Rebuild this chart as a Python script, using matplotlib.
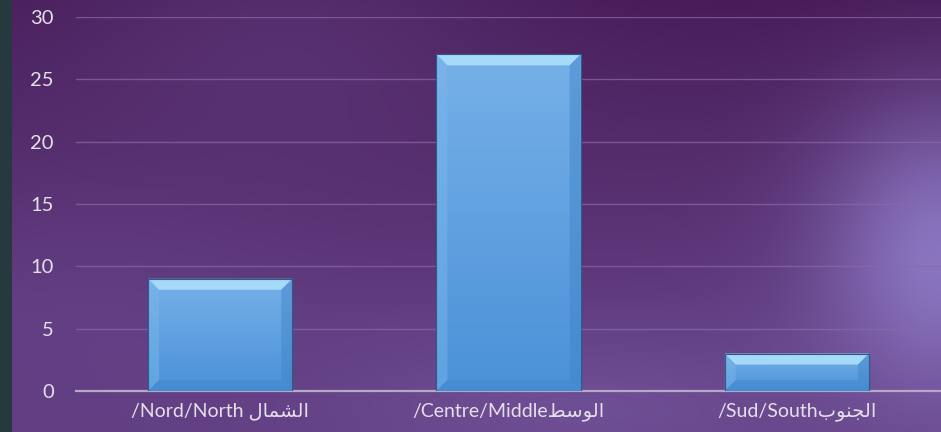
import numpy as np
import matplotlib.pyplot as plt
from matplotlib.patches import Polygon

# category labels, written in visual order (Arabic in presentation forms, right-to-left)
categories = [
    "/Nord/North \ufedd\ufe8e\ufee4\ufeb8\ufedf\ufe8d",   # الشمال
    "/Centre/Middle\ufec2\ufeb3\ufeee\ufedf\ufe8d",      # الوسط
    "/Sud/South\ufe8f\ufeee\ufee8\ufea0\ufedf\ufe8d",     # الجنوب
]
values = [9, 27, 3]
yticks = [0, 5, 10, 15, 20, 25, 30]

W, H = 941, 432
fig = plt.figure(figsize=(W / 100, H / 100), dpi=100)

# background: purple with soft light patches
bg = fig.add_axes([0, 0, 1, 1], zorder=-10)
xx, yy = np.meshgrid(np.linspace(0, 1, W), np.linspace(0, 1, H))
img = np.zeros((H, W, 3))
top = np.array([72, 28, 88]) / 255
bot = np.array([98, 62, 130]) / 255
t = np.clip(yy * 1.3, 0, 1)[..., None]
img[:] = top * (1 - t) + bot * t
def blob(cx, cy, sx, sy, col, a):
    g = np.exp(-((xx - cx) ** 2 / (2 * sx ** 2) + (yy - cy) ** 2 / (2 * sy ** 2)))[..., None] * a
    return g, np.array(col) / 255
for cx, cy, sx, sy, col, a in [
    (0.3, 0.15, 0.18, 0.25, (90, 52, 118), 0.8),
    (1.0, 0.6, 0.09, 0.25, (140, 120, 195), 0.95),
    (0.62, 0.95, 0.2, 0.12, (118, 88, 160), 0.6),
    (0.1, 0.75, 0.15, 0.2, (100, 66, 135), 0.5),
]:
    g, c = blob(cx, cy, sx, sy, col, a)
    img = img * (1 - g) + c * g
img[:, :12] = np.array([38, 58, 64]) / 255
bg.imshow(img, aspect="auto", extent=[0, 1, 0, 1], origin="upper")
bg.axis("off")

ax = fig.add_axes([76 / W, 41 / H, 1 - 76 / W, (391 - 17) / H])
ax.set_facecolor("none")
ax.set_xlim(-0.5, 2.5)
ax.set_ylim(0, 30)

x = np.arange(len(categories))
bars = ax.bar(x, values, width=0.5, color="#5ea3e4", edgecolor="#2f5f90", linewidth=0.8, zorder=3)

# bevel look on each bar
fig.canvas.draw()
sx = (ax.get_xlim()[1] - ax.get_xlim()[0]) / ax.bbox.width
sy = (ax.get_ylim()[1] - ax.get_ylim()[0]) / ax.bbox.height
grad = np.linspace(0, 1, 100)[:, None]
cmap = plt.matplotlib.colors.LinearSegmentedColormap.from_list("b", ["#76b0e8", "#4b92d8"])
for b in bars:
    x0, w, h = b.get_x(), b.get_width(), b.get_height()
    im = ax.imshow(grad, extent=[x0, x0 + w, 0, h], aspect="auto", cmap=cmap, zorder=3.1)
    im.set_clip_path(b)
    dx, dy = 11 * sx, 11 * sy
    ax.add_patch(Polygon([(x0, h), (x0 + w, h), (x0 + w - dx, h - dy), (x0 + dx, h - dy)],
                         facecolor="#a6daf8", edgecolor="none", zorder=3.2))
    ax.add_patch(Polygon([(x0, h), (x0 + dx, h - dy), (x0 + dx, dy), (x0, 0)],
                         facecolor="#7cb8ec", edgecolor="none", alpha=0.45, zorder=3.2))
    ax.add_patch(Polygon([(x0 + w, h), (x0 + w - dx, h - dy), (x0 + w - dx, dy), (x0 + w, 0)],
                         facecolor="#3f82c6", edgecolor="none", alpha=0.45, zorder=3.2))
    ax.add_patch(Polygon([(x0, 0), (x0 + dx, dy), (x0 + w - dx, dy), (x0 + w, 0)],
                         facecolor="#3e86cc", edgecolor="none", alpha=0.45, zorder=3.2))
    ax.add_patch(Polygon([(x0, 0), (x0 + w, 0), (x0 + w, h), (x0, h)],
                         facecolor="none", edgecolor="#2c5a8a", linewidth=0.8, zorder=3.3))

ax.set_yticks(yticks)
ax.set_xticks(x)
ax.set_xticklabels(categories, family=["Lato", "DejaVu Sans"], fontsize=14, color="#e4e0ea")
for lab in ax.get_yticklabels():
    lab.set_family("Lato")
    lab.set_fontsize(14.5)
    lab.set_color("#e4e0ea")
ax.tick_params(axis="y", length=0, pad=16)
ax.tick_params(axis="x", length=0, pad=8)
ax.grid(axis="y", color="#8a6aa8", linewidth=1, alpha=0.7, zorder=0)
ax.set_axisbelow(True)
for s in ["top", "right", "left"]:
    ax.spines[s].set_visible(False)
ax.spines["bottom"].set_color("#b8a8c8")
ax.spines["bottom"].set_linewidth(1.6)
ax.spines["bottom"].set_zorder(2)

fig.savefig("out.png", dpi=100)
